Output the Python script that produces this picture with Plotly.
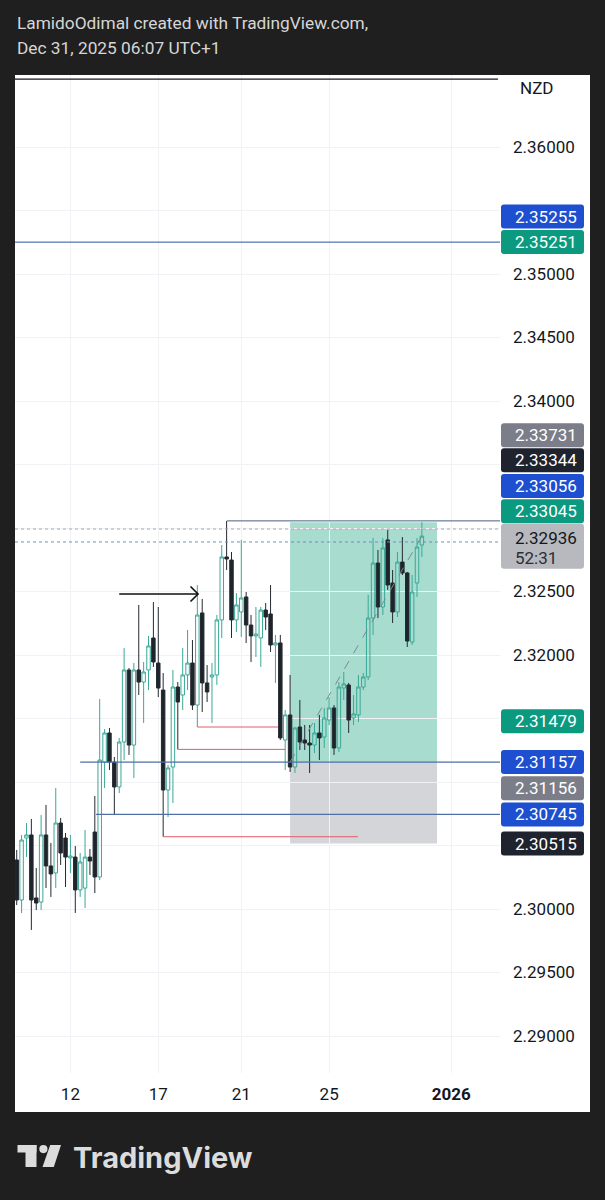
import plotly.graph_objects as go

W, H = 605, 1200

# ---------------- GBPNZD, 4H candles ----------------
opens = [2.30386, 2.30071, 2.30559, 2.30583, 2.30087, 2.30055, 2.30583, 2.30339, 2.30284, 2.30677,
         2.30559, 2.30402, 2.30409, 2.30150, 2.30165, 2.30409, 2.30606, 2.30252, 2.31157, 2.31386,
         2.31157, 2.30961, 2.31315, 2.31882, 2.31291, 2.31882, 2.31787, 2.31882, 2.32134, 2.31937,
         2.31724, 2.30937, 2.31118, 2.31748, 2.31685, 2.31843, 2.31937, 2.31606, 2.32331, 2.31780,
         2.31827, 2.31843, 2.32276, 2.32772, 2.32748, 2.32276, 2.32339, 2.32457, 2.32236, 2.32150,
         2.32134, 2.32354, 2.32323, 2.32079, 2.32095, 2.31331, 2.31528, 2.31118, 2.31433, 2.31331,
         2.31307, 2.31291, 2.31386, 2.31354, 2.31488, 2.31583, 2.31268, 2.31740, 2.31764, 2.31504,
         2.31528, 2.31748, 2.31827, 2.32291, 2.32724, 2.32378, 2.32906, 2.32567, 2.32339, 2.32732,
         2.32646, 2.32102, 2.32567, 2.32866]
highs = [2.30465, 2.30583, 2.30677, 2.30709, 2.30323, 2.30740, 2.30819, 2.30520, 2.30953, 2.30717,
         2.30598, 2.30583, 2.30496, 2.30441, 2.30622, 2.30472, 2.30890, 2.31654, 2.31417, 2.31425,
         2.31197, 2.31347, 2.32055, 2.31898, 2.31937, 2.32394, 2.31945, 2.32150, 2.32417, 2.32378,
         2.31858, 2.31134, 2.31882, 2.31787, 2.32055, 2.32197, 2.32118, 2.32551, 2.32441, 2.31921,
         2.31937, 2.32315, 2.32866, 2.33056, 2.32811, 2.32488, 2.32906, 2.32496, 2.32315, 2.32378,
         2.32378, 2.32409, 2.32551, 2.32158, 2.32158, 2.31567, 2.31843, 2.31433, 2.31646, 2.31449,
         2.31449, 2.31465, 2.31528, 2.31583, 2.31669, 2.31606, 2.31787, 2.31866, 2.31780, 2.31685,
         2.31843, 2.31858, 2.32473, 2.32921, 2.32827, 2.32921, 2.32984, 2.32669, 2.32811, 2.32929,
         2.32654, 2.32630, 2.32921, 2.33045]
lows = [2.30031, 2.29969, 2.30409, 2.29835, 2.29992, 2.29992, 2.30165, 2.30095, 2.30165, 2.30347,
        2.30173, 2.30284, 2.29969, 2.30095, 2.30008, 2.30268, 2.30126, 2.30228, 2.30953, 2.31094,
        2.30745, 2.30913, 2.31173, 2.31213, 2.31032, 2.31685, 2.31465, 2.31724, 2.31906, 2.31669,
        2.30569, 2.30724, 2.30835, 2.31257, 2.31567, 2.31724, 2.31567, 2.31433, 2.31551, 2.31630,
        2.31465, 2.31764, 2.32134, 2.32669, 2.32134, 2.32181, 2.32142, 2.32095, 2.31945, 2.31984,
        2.31906, 2.32197, 2.32024, 2.31780, 2.31331, 2.31094, 2.31079, 2.31071, 2.31252, 2.31252,
        2.31071, 2.31228, 2.31173, 2.31268, 2.31449, 2.31213, 2.31236, 2.31646, 2.31386, 2.31449,
        2.31473, 2.31724, 2.31803, 2.32158, 2.32291, 2.32315, 2.32512, 2.32252, 2.32299, 2.32630,
        2.32063, 2.32079, 2.32457, 2.32772]
closes = [2.30071, 2.30543, 2.30583, 2.30071, 2.30047, 2.30583, 2.30339, 2.30276, 2.30677, 2.30441,
          2.30409, 2.30417, 2.30150, 2.30370, 2.30409, 2.30378, 2.30252, 2.31173, 2.31386, 2.31157,
          2.30961, 2.31315, 2.31882, 2.31291, 2.31882, 2.31787, 2.31866, 2.32071, 2.31945, 2.31740,
          2.30937, 2.31110, 2.31748, 2.31630, 2.31843, 2.31937, 2.31606, 2.32315, 2.31780, 2.31709,
          2.31843, 2.32276, 2.32772, 2.32756, 2.32276, 2.32394, 2.32449, 2.32236, 2.32150, 2.32165,
          2.32354, 2.32299, 2.32079, 2.32095, 2.31347, 2.31528, 2.31118, 2.31425, 2.31315, 2.31307,
          2.31291, 2.31386, 2.31347, 2.31504, 2.31583, 2.31268, 2.31748, 2.31772, 2.31488, 2.31536,
          2.31748, 2.31827, 2.32291, 2.32724, 2.32378, 2.32843, 2.32551, 2.32339, 2.32732, 2.32646,
          2.32110, 2.32496, 2.32850, 2.32936]
bars = list(range(len(opens)))

# ---------------- axes ----------------
date_ticks = [11, 29, 46, 64, 89]
date_labels = ["12", "17", "21", "25", "<b>2026</b>"]
price_ticks = [2.290, 2.295, 2.300, 2.305, 2.310, 2.315, 2.320, 2.325,
               2.330, 2.335, 2.340, 2.345, 2.350, 2.355, 2.360]
# scale values hidden behind the price tags keep their grid line only
covered_ticks = [2.305, 2.310, 2.315, 2.330, 2.335, 2.355]
x_view = [-0.35, 99.0]
y_view = [2.287087, 2.365669]

# ---------------- drawings ----------------
top_line = 2.36535
far_level = 2.35251
ray_high, ray_from = 2.33056, 43.1
bid_level, ask_level = 2.32890, 2.32992
blue_levels = [2.31157, 2.30745]
blue_from = [13.0, 16.25]
red_levels = [2.31433, 2.31257, 2.30569]
red_from = [37, 33, 30]
red_to = [53.5, 55.0, 69.9]
arrow_price, arrow_from, arrow_to = 2.32480, 21.0, 37.15

# long position tool
pos_from, pos_to = 56.0, 86.1
pos_target, pos_entry, pos_stop = 2.33045, 2.31157, 2.30515
last_price = 2.32936
countdown = "52:31"

# price scale tags
label_values = [2.35255, 2.35251, 2.33731, 2.33344, 2.33056, 2.33045,
                2.31479, 2.31157, 2.31156, 2.30745, 2.30515]
label_colors = ["#1d4fd0", "#0b9a80", "#7b7e88", "#1f232d", "#1d4fd0", "#0b9a80",
                "#0b9a80", "#1d4fd0", "#7b7e88", "#1d4fd0", "#1f232d"]
label_shift = [25, 0, 0, 24, 35, 11, 0, 0, -26, 0, 0]

FONT = "Roboto, Arial, sans-serif"
INK = "#131722"


def px_x(p):
    return p / W


def px_y(p):
    return 1 - p / H


def rounded(x0, x1, y0, y1, r=3):
    return (f"M {x0 + r},{y0} L {x1 - r},{y0} Q {x1},{y0} {x1},{y0 + r} "
            f"L {x1},{y1 - r} Q {x1},{y1} {x1 - r},{y1} L {x0 + r},{y1} "
            f"Q {x0},{y1} {x0},{y1 - r} L {x0},{y0 + r} Q {x0},{y0} {x0 + r},{y0} Z")


fig = go.Figure()


def hline(x0, x1, y, color, width=1, dash="solid"):
    fig.add_trace(go.Scatter(x=[x0, x1], y=[y, y], mode="lines",
                             line=dict(color=color, width=width, dash=dash),
                             hoverinfo="skip", showlegend=False))


hline(x_view[0], 98.6, top_line, "#131722", 1.3)
hline(x_view[0], x_view[1], far_level, "#2d4fa8", 1)
hline(x_view[0], x_view[1], ask_level, "#a6a8ae", 1, "dot")
hline(x_view[0], x_view[1], bid_level, "#6f8fc8", 1, "dot")
hline(ray_from, x_view[1], ray_high, "#4b5d80", 1)
for lv, x0 in zip(blue_levels, blue_from):
    hline(x0, x_view[1], lv, "#4f6fa6", 1.2)
for lv, x0, x1 in zip(red_levels, red_from, red_to):
    hline(x0, x1, lv, "#e35a6c", 1)

# dashed path of the open position
fig.add_trace(go.Scatter(x=[pos_from, bars[-1]], y=[pos_entry, last_price], mode="lines",
                         line=dict(color="#7f8791", width=1, dash="dash"),
                         hoverinfo="skip", showlegend=False))

# arrow with open chevron head
arm_x, arm_y = 1.55, 0.00059
fig.add_trace(go.Scatter(
    x=[arrow_from, arrow_to, None, arrow_to - arm_x, arrow_to, arrow_to - arm_x],
    y=[arrow_price, arrow_price, None, arrow_price + arm_y, arrow_price, arrow_price - arm_y],
    mode="lines", line=dict(color="#111111", width=1.6),
    hoverinfo="skip", showlegend=False))

fig.add_trace(go.Candlestick(
    x=bars, open=opens, high=highs, low=lows, close=closes,
    increasing=dict(line=dict(color="#3aa898", width=1), fillcolor="rgba(0,0,0,0)"),
    decreasing=dict(line=dict(color="#242a31", width=1), fillcolor="#1e242b"),
    whiskerwidth=0, hoverinfo="skip", showlegend=False))

shapes = [
    # white chart panel
    dict(type="rect", xref="paper", yref="paper", x0=px_x(15), x1=px_x(590),
         y0=px_y(1112), y1=px_y(75), fillcolor="white", line=dict(width=0), layer="below"),
    # profit / risk zones
    dict(type="rect", xref="x", yref="y", x0=pos_from, x1=pos_to, y0=pos_entry, y1=pos_target,
         fillcolor="#a7dccf", line=dict(width=0), layer="below"),
    dict(type="rect", xref="x", yref="y", x0=pos_from, x1=pos_to, y0=pos_stop, y1=pos_entry,
         fillcolor="#d4d5d8", line=dict(width=0), layer="below"),
    # TradingView mark
    dict(type="rect", xref="paper", yref="paper", x0=px_x(17.5), x1=px_x(36.5),
         y0=px_y(1152.5), y1=px_y(1145), fillcolor="#dcdcdc", line=dict(width=0)),
    dict(type="rect", xref="paper", yref="paper", x0=px_x(25.5), x1=px_x(36.5),
         y0=px_y(1167), y1=px_y(1145), fillcolor="#dcdcdc", line=dict(width=0)),
    dict(type="circle", xref="paper", yref="paper", x0=px_x(39.3), x1=px_x(47.5),
         y0=px_y(1153.2), y1=px_y(1145), fillcolor="#dcdcdc", line=dict(width=0)),
    dict(type="path", xref="paper", yref="paper",
         path=f"M {px_x(50.2)} {px_y(1145)} L {px_x(61)} {px_y(1145)} "
              f"L {px_x(53.8)} {px_y(1167)} L {px_x(42.5)} {px_y(1167)} Z",
         fillcolor="#dcdcdc", line=dict(width=0)),
]

annotations = [
    dict(xref="paper", yref="paper", x=px_x(15), y=px_y(23), xanchor="left", yanchor="middle",
         text="LamidoOdimal created with TradingView.com,", showarrow=False,
         font=dict(family=FONT, size=17.3, color="#d6d6d6")),
    dict(xref="paper", yref="paper", x=px_x(15), y=px_y(48), xanchor="left", yanchor="middle",
         text="Dec 31, 2025 06:07 UTC+1", showarrow=False,
         font=dict(family=FONT, size=17.3, color="#d6d6d6")),
    dict(xref="paper", yref="paper", x=px_x(536), y=px_y(88), xanchor="center", yanchor="middle",
         text="NZD", showarrow=False, font=dict(family=FONT, size=17, color=INK)),
    dict(xref="paper", yref="paper", x=px_x(71), y=px_y(1157), xanchor="left", yanchor="middle",
         text="TradingView", showarrow=False,
         font=dict(family="Inter, Roboto, sans-serif", size=29, color="#dcdcdc", weight=700)),
]

TAG_L, TAG_R, TEXT_X = 501, 584, 513


def tag_box(value, shift_top, shift_bottom, color):
    return dict(type="path", xref="paper", yref="y", xsizemode="pixel", ysizemode="pixel",
                xanchor=px_x(TAG_L), yanchor=value,
                path=rounded(0, TAG_R - TAG_L, shift_bottom, shift_top),
                fillcolor=color, line=dict(width=0), layer="above")


for v, c, s in zip(label_values, label_colors, label_shift):
    shapes.append(tag_box(v, s + 12, s - 12, c))
    annotations.append(dict(
        xref="paper", yref="y", x=px_x(TEXT_X), y=v, yshift=s, xanchor="left", yanchor="middle",
        text=f"{v:.5f}", showarrow=False,
        font=dict(family=FONT, size=17, color="#ffffff")))

# last price tag with bar countdown
shapes.append(tag_box(last_price, 12.5, -32.5, "#b7b9be"))
annotations.append(dict(
    xref="paper", yref="y", x=px_x(TEXT_X), y=last_price, yshift=-1.5, xanchor="left",
    yanchor="middle", text=f"{last_price:.5f}", showarrow=False,
    font=dict(family=FONT, size=17, color=INK)))
annotations.append(dict(
    xref="paper", yref="y", x=px_x(TEXT_X), y=last_price, yshift=-21.5, xanchor="left",
    yanchor="middle", text=countdown, showarrow=False,
    font=dict(family=FONT, size=17, color="#2a2e39")))

fig.update_layout(
    width=W, height=H,
    margin=dict(l=0, r=0, t=0, b=0, pad=0),
    paper_bgcolor="#1f1f1f", plot_bgcolor="white",
    showlegend=False, hovermode=False,
    boxgap=0.05, boxgroupgap=0.25,
    font=dict(family=FONT, color=INK),
    shapes=shapes, annotations=annotations,
    xaxis=dict(domain=[px_x(15), px_x(500)], range=x_view,
               tickmode="array", tickvals=date_ticks, ticktext=date_labels,
               showgrid=True, gridcolor="#f1f2f5", gridwidth=1, zeroline=False,
               showline=False, ticks="", ticklabelstandoff=9,
               tickfont=dict(family=FONT, size=17, color=INK),
               rangeslider=dict(visible=False), fixedrange=True),
    yaxis=dict(domain=[px_y(1073), px_y(75)], range=y_view, side="right",
               tickmode="array", tickvals=price_ticks,
               ticktext=["" if t in covered_ticks else f"{t:.5f}" for t in price_ticks],
               showgrid=True, gridcolor="#f1f2f5", gridwidth=1, zeroline=False,
               showline=False, ticks="", ticklabelstandoff=12,
               tickfont=dict(family=FONT, size=17, color=INK), fixedrange=True),
)

fig.write_html("out.html")
